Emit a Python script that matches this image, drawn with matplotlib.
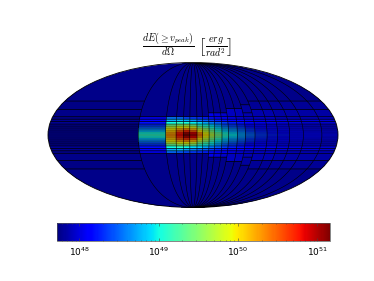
import numpy as np
import matplotlib
matplotlib.use('Agg')
import matplotlib.pyplot as plt
from matplotlib.colors import LogNorm

plt.rcParams['mathtext.fontset'] = 'cm'

# cell edges, degrees
lon_edges = [-180, -68, -34, -21, -12, -4, 5, 12, 20, 27, 36, 44, 55, 65, 77,
             92, 105, 120, 137, 160, 180]
lat_edges = [-18.5, -16, -13.5, -11, -9, -7, -5, -3, -1, 1, 3, 5, 7, 9, 11,
             13.5, 16, 18.5]

# extra latitude lines above the central band, per column
extra_lats = [[26, 35], [], [], [], [], [], [], [], [22.5], [22.5], [22.5],
              [27], [27], [22.5, 31], [26, 35], [26, 35], [26, 35], [26, 35],
              [26, 35], [26, 35]]
extra_vals = [[47.75, 47.74], [], [], [], [], [], [], [], [48.05], [48.0], [47.95],
              [47.92], [47.9], [47.88, 47.82], [47.86, 47.8], [47.86, 47.8],
              [47.84, 47.79], [47.84, 47.79], [47.84, 47.79], [47.84, 47.79]]
polar_val = 47.75

# log10(E), rows from south to north, columns west to east
log_e = [
    [47.76, 48.05, 48.5, 48.45, 48.4, 48.35, 48.3, 48.25, 48.2, 48.15, 48.1, 48.05, 48.0, 47.95, 47.95, 47.95, 47.9, 47.9, 47.9, 47.9],
    [47.77, 48.1, 48.75, 48.8, 48.7, 48.6, 48.5, 48.45, 48.35, 48.25, 48.2, 48.15, 48.1, 48.05, 48.0, 48.0, 48.0, 47.95, 47.95, 47.95],
    [47.78, 48.2, 49.0, 49.1, 49.0, 48.9, 48.85, 48.7, 48.55, 48.45, 48.35, 48.25, 48.2, 48.1, 48.05, 48.05, 48.0, 48.0, 47.95, 47.95],
    [47.79, 48.3, 49.35, 49.5, 49.55, 49.4, 49.1, 49.0, 48.85, 48.65, 48.45, 48.35, 48.25, 48.15, 48.1, 48.05, 48.05, 48.0, 48.0, 47.95],
    [47.8, 48.45, 49.7, 49.9, 49.95, 49.75, 49.4, 49.2, 49.0, 48.8, 48.6, 48.45, 48.35, 48.2, 48.15, 48.1, 48.05, 48.05, 48.0, 48.0],
    [47.81, 48.6, 49.95, 50.2, 50.3, 50.15, 49.7, 49.5, 49.2, 48.95, 48.75, 48.6, 48.45, 48.3, 48.2, 48.15, 48.1, 48.05, 48.05, 48.0],
    [47.82, 48.8, 50.1, 50.5, 50.65, 50.5, 50.0, 49.7, 49.4, 49.1, 48.85, 48.7, 48.55, 48.35, 48.25, 48.2, 48.15, 48.1, 48.05, 48.05],
    [47.83, 49.0, 50.25, 50.7, 51.0, 50.85, 50.25, 49.9, 49.6, 49.3, 49.0, 48.85, 48.65, 48.45, 48.3, 48.2, 48.15, 48.1, 48.1, 48.05],
    [47.84, 49.1, 50.3, 50.8, 51.15, 51.0, 50.4, 50.0, 49.7, 49.4, 49.1, 48.95, 48.7, 48.5, 48.35, 48.25, 48.2, 48.15, 48.1, 48.1],
    [47.83, 49.0, 50.25, 50.75, 51.05, 50.9, 50.3, 49.9, 49.6, 49.3, 49.0, 48.85, 48.65, 48.45, 48.3, 48.2, 48.15, 48.1, 48.1, 48.05],
    [47.82, 48.8, 50.1, 50.5, 50.7, 50.5, 50.0, 49.7, 49.4, 49.1, 48.85, 48.7, 48.55, 48.35, 48.25, 48.2, 48.15, 48.1, 48.05, 48.05],
    [47.81, 48.6, 49.95, 50.2, 50.3, 50.15, 49.7, 49.5, 49.2, 48.95, 48.75, 48.6, 48.45, 48.3, 48.2, 48.15, 48.1, 48.05, 48.05, 48.0],
    [47.8, 48.45, 49.7, 49.9, 49.9, 49.8, 49.4, 49.2, 49.0, 48.8, 48.6, 48.45, 48.35, 48.2, 48.15, 48.1, 48.05, 48.05, 48.0, 48.0],
    [47.79, 48.3, 49.4, 49.5, 49.6, 49.4, 49.1, 49.0, 48.85, 48.65, 48.45, 48.35, 48.25, 48.15, 48.1, 48.05, 48.05, 48.0, 48.0, 47.95],
    [47.78, 48.2, 49.0, 49.1, 49.05, 48.95, 48.85, 48.7, 48.55, 48.45, 48.35, 48.25, 48.2, 48.1, 48.05, 48.05, 48.0, 48.0, 47.95, 47.95],
    [47.77, 48.1, 48.75, 48.8, 48.75, 48.65, 48.5, 48.45, 48.35, 48.25, 48.2, 48.15, 48.1, 48.05, 48.0, 48.0, 48.0, 47.95, 47.95, 47.95],
    [47.76, 48.05, 48.55, 48.5, 48.4, 48.35, 48.3, 48.25, 48.2, 48.15, 48.1, 48.05, 48.0, 47.95, 47.95, 47.95, 47.9, 47.9, 47.9, 47.9],
]

vmin, vmax = 10 ** 47.72, 10 ** 51.16
cbar_ticks = [1e48, 1e49, 1e50, 1e51]
title = (r'$\frac{dE(\geq v_{peak})}{d\Omega}\ '
         r'\left[\frac{erg}{rad^2}\right]$')

W, H = 374, 281
fig = plt.figure(figsize=(W / 100, H / 100), dpi=100)
ax = fig.add_axes([48 / W, (H - 207.5) / H, 290 / W, 145 / H], projection='mollweide')
norm = LogNorm(vmin, vmax)
lw_lat = 0.5
lw_lon = 0.42

for j in range(len(lon_edges) - 1):
    # lat edges and values of this column, south pole to north pole
    extra = extra_lats[j]
    ex_v = extra_vals[j]
    lats = [-90] + [-e for e in extra[::-1]] + lat_edges + extra + [90]
    vals = [polar_val] + ex_v[::-1] + [row[j] for row in log_e] + ex_v + [polar_val]

    # split each cell so the meridians stay curved
    fine = []
    for a, b in zip(lats[:-1], lats[1:]):
        fine.extend(np.linspace(a, b, 16)[:-1])
    fine.append(lats[-1])
    fine = np.radians(fine)
    fine_vals = np.repeat(vals, 15)

    X = np.radians([lon_edges[j], lon_edges[j + 1]])
    X, Y = np.meshgrid(X, fine)
    ax.pcolormesh(X, Y, 10.0 ** fine_vals[:, None], cmap='jet', norm=norm,
                  shading='flat', antialiased=False, linewidth=0)

    x0, x1 = np.radians(lon_edges[j]), np.radians(lon_edges[j + 1])
    for lat in lats[1:-1]:
        ax.plot([x0, x1], np.radians([lat, lat]), color='k', lw=lw_lat,
                solid_capstyle='butt', snap=False)

for lon in lon_edges[1:-1]:
    ax.plot(np.radians([lon, lon]), np.radians([-90, 90]), color='k', lw=lw_lon, snap=False)

ax.grid(False)
ax.xaxis.set_visible(False)
ax.yaxis.set_visible(False)
ax.spines['geo'].set_linewidth(0.6)

fig.text(187 / W, 1 - 46 / H, title, ha='center', va='center', fontsize=10.2)

cax = fig.add_axes([57 / W, (H - 241) / H, 273 / W, 18 / H])
sm = plt.cm.ScalarMappable(norm=norm, cmap='jet')
cb = fig.colorbar(sm, cax=cax, orientation='horizontal', ticks=cbar_ticks)
cb.outline.set_linewidth(0.5)
cb.outline.set_edgecolor('#555555')
cax.tick_params(which='both', direction='in', top=True, bottom=True, width=0.4,
                color='#444444', labelsize=6.5, pad=3)
cax.tick_params(which='major', length=2)
cax.tick_params(which='minor', length=1)

fig.savefig('out.png', dpi=100)
